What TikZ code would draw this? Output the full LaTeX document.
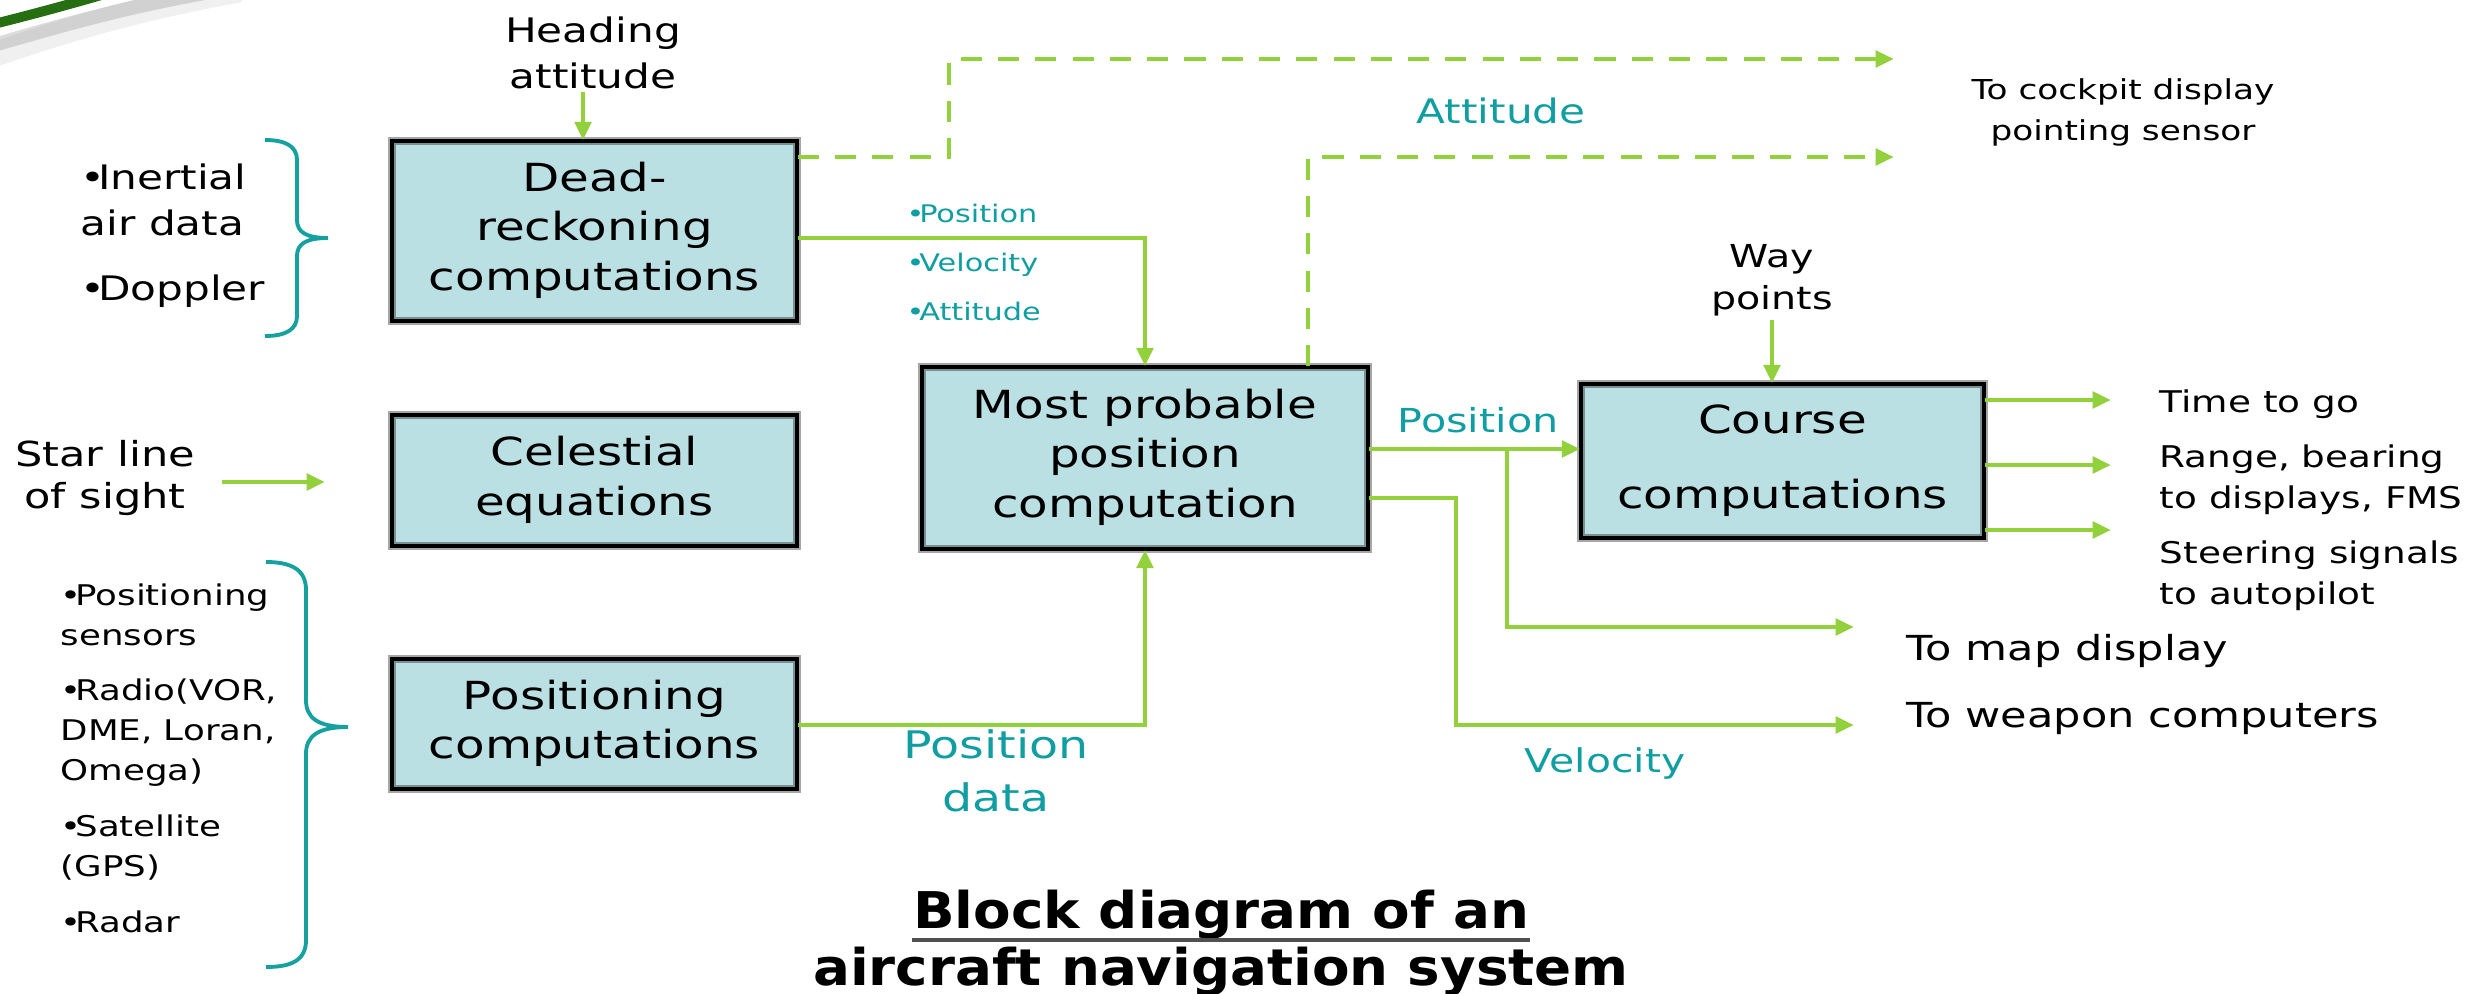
\documentclass[tikz,border=0pt]{standalone}
\usepackage{fontspec}
\setmainfont{DejaVu Sans}[FakeStretch=1.25]
\newfontfamily\titlefamily{DejaVu Sans}[FakeStretch=1.08]
\usetikzlibrary{arrows.meta}

\definecolor{boxfill}{RGB}{187,224,227}
\definecolor{flowgreen}{RGB}{146,208,60}
\definecolor{labelteal}{RGB}{16,158,162}
\definecolor{bracecol}{RGB}{22,160,160}
\definecolor{swooshgreen}{RGB}{38,110,18}

% multi-line text whose baseline is that of its first line
\newcommand\txtstack[2][c]{\begin{tabular}[t]{@{}#1@{}}#2\end{tabular}}
\newcommand\fsz[2]{\fontsize{#1}{#2}\selectfont}
% tight bullet
\newcommand\bul{•\kern-.22em}

\tikzset{
  blk/.style={fill=boxfill, inner sep=0pt,
    postaction={draw=black, draw opacity=.35, line width=2.3pt},
    postaction={draw=black, line width=1pt}},
  flow/.style={draw=flowgreen, line width=1.3pt,
    -{Triangle[length=5.2pt,width=4.6pt]}},
  dflow/.style={flow, dash pattern=on 6pt off 4.6pt},
  brace/.style={draw=bracecol, line width=1.1pt},
  txt/.style={inner sep=0pt, anchor=base},
  txtl/.style={inner sep=0pt, anchor=base west},
  teal/.style={text=labelteal}
}

\begin{document}
\begin{tikzpicture}[x=0.01cm, y=-0.01cm]
\useasboundingbox (0,0) rectangle (2466,994);

% corner decoration
\draw[gray, line width=7pt, opacity=.12] (-10,56) .. controls (60,32) and (130,10) .. (240,-10);
\draw[gray, line width=4pt, opacity=.28] (-10,46) .. controls (60,26) and (120,8) .. (210,-8);
\draw[swooshgreen, line width=2.8pt] (-10,25) .. controls (30,15) and (60,7) .. (105,-6);

% blocks
\node[blk, minimum width=4.05cm, minimum height=1.80cm] (dr) at (594.5,231)
  {\fsz{11}{14.2}\txtstack{Dead-\\reckoning\\computations}};
\node[blk, minimum width=4.05cm, minimum height=1.31cm] (cel) at (594.5,480.5)
  {\fsz{11}{14.2}\txtstack{Celestial\\equations}};
\node[blk, minimum width=4.05cm, minimum height=1.30cm] (pos) at (594.5,724)
  {\fsz{11}{14.2}\txtstack{Positioning\\computations}};
\node[blk, minimum width=4.46cm, minimum height=1.82cm] (mpp) at (1145,458)
  {\fsz{11}{14.2}\txtstack{Most probable\\position\\computation}};
\node[blk, minimum width=4.03cm, minimum height=1.54cm] (crs) at (1782.5,461)
  {\fsz{11}{14.2}\txtstack{Course\\[0.25cm]computations}};

% inputs
\node[txt] (head) at (593,43) {\fsz{9.6}{12.8}\txtstack{Heading\\attitude}};
\coordinate (headout) at (583,92);
\draw[flow] (headout) -- (headout |- dr.north);

\node[txtl] (ins) at (80,190) {\fsz{9.6}{12.8}\txtstack[l]{\bul Inertial\\air data\\[0.2cm]\bul Doppler}};
\draw[brace] (265,140) .. controls (285,140) and (297,146) .. (297,160) -- (297,220)
  .. controls (297,232) and (306,238) .. (328,238)
  .. controls (306,238) and (297,244) .. (297,256) -- (297,316)
  .. controls (297,330) and (285,336) .. (265,336);

\node[txt] (star) at (105,466) {\fsz{9.8}{12.2}\txtstack{Star line\\of sight}};
\coordinate (starout) at (222,482);
\coordinate (starin) at (325,482);
\draw[flow] (starout) -- (starin);

\node[txtl] (sens) at (60,605) {\fsz{8.1}{11.4}\txtstack[l]{\bul Positioning\\sensors\\[0.15cm]\bul Radio(VOR,\\DME, Loran,\\Omega)\\[0.16cm]\bul Satellite\\(GPS)\\[0.16cm]\bul Radar}};
\draw[brace] (266,562) .. controls (292,562) and (306,570) .. (306,590) -- (306,700)
  .. controls (306,718) and (318,727) .. (348,727)
  .. controls (318,727) and (306,736) .. (306,754) -- (306,940)
  .. controls (306,960) and (292,967) .. (266,967);

% dead-reckoning outputs
\coordinate (drknee) at (1145,238);
\draw[flow] (dr.east |- drknee) -- (drknee) -- (mpp.north);
\node[txtl, teal] (drlist) at (906,223) {\fsz{6.9}{13.8}\txtstack[l]{\bul Position\\\bul Velocity\\\bul Attitude}};

\coordinate (dashA) at (949,157);
\coordinate (cockA) at (1894,59);
\coordinate (cockB) at (1894,157);
\draw[dflow] (dr.east |- dashA) -- (dashA) |- (cockA);
\draw[dflow] (mpp.north -| 1308,0) |- (cockB);
\node[txt, teal] (att) at (1501,124) {\fsz{9.6}{12}Attitude};
\node[txt] (cock) at (2123,100) {\fsz{7.8}{11.4}\txtstack{To cockpit display\\pointing sensor}};

% positioning data into the estimator
\draw[flow] (pos.east |- 0,725) -| (mpp.south);
\node[txt, teal] (pdata) at (996,758) {\fsz{10.8}{15.1}\txtstack{Position\\data}};

% estimator outputs
\coordinate (branch) at (1507,449);
\coordinate (mapin) at (1854,627);
\coordinate (velknee) at (1456,498);
\coordinate (weapin) at (1854,725);
\draw[flow] (mpp.east |- branch) -- (crs.west |- branch);
\draw[flow] (branch) |- (mapin);
\draw[flow] (mpp.east |- velknee) -- (velknee) |- (weapin);
\node[txt, teal] (plabel) at (1478,432) {\fsz{9.4}{12}Position};
\node[txt, teal] (vlabel) at (1605,772) {\fsz{9.3}{12}Velocity};
\node[txtl] (map) at (1906,660) {\fsz{9.8}{12}To map display};
\node[txtl] (weap) at (1906,727) {\fsz{9.8}{12}To weapon computers};

% course computation
\node[txt] (way) at (1772,268) {\fsz{9}{11.9}\txtstack{Way\\points}};
\coordinate (wayout) at (1772,320);
\draw[flow] (wayout) -- (wayout |- crs.north);

\coordinate (t1) at (2111,400);
\coordinate (t2) at (2111,465);
\coordinate (t3) at (2111,530);
\draw[flow] (crs.east |- t1) -- (t1);
\draw[flow] (crs.east |- t2) -- (t2);
\draw[flow] (crs.east |- t3) -- (t3);
\node[txtl] (ttg) at (2159,412) {\fsz{8.5}{11.7}Time to go};
\node[txtl] (rng) at (2159,467) {\fsz{8.5}{11.7}\txtstack[l]{Range, bearing\\to displays, FMS}};
\node[txtl] (steer) at (2159,563) {\fsz{8.5}{11.9}\txtstack[l]{Steering signals\\to autopilot}};

% caption
\node[txt] (cap1) at (1221,928) {\titlefamily\bfseries\fsz{14.4}{16}Block diagram of an};
\node[txt] (cap2) at (1221,985) {\titlefamily\bfseries\fsz{14.4}{16}aircraft navigation system};
\draw[draw={rgb,255:red,80;green,80;blue,80}, line width=1.1pt]
  ([yshift=-0.12cm]cap1.base west) -- ([yshift=-0.12cm]cap1.base east);
\end{tikzpicture}
\end{document}
